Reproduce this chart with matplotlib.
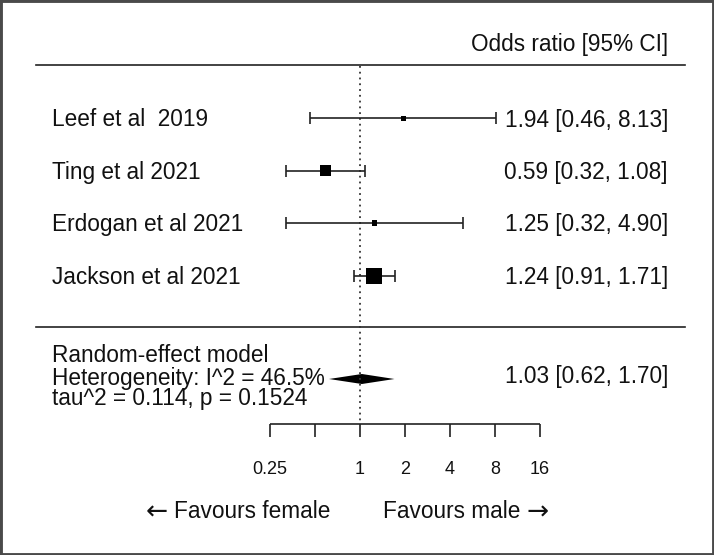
import numpy as np
import matplotlib
matplotlib.use("Agg")
import matplotlib.pyplot as plt
from matplotlib.patches import Rectangle
import matplotlib.transforms as mtransforms

plt.rcParams['font.family'] = ['Liberation Sans', 'DejaVu Sans']

# ---------------- data ----------------
studies = ["Leef et al  2019", "Ting et al 2021", "Erdogan et al 2021", "Jackson et al 2021"]
odds_ratio = [1.94, 0.59, 1.25, 1.24]
ci_low = [0.46, 0.32, 0.32, 0.91]
ci_high = [8.13, 1.08, 4.90, 1.71]
weights = [10.2, 31.5, 11.1, 47.3]  # random-effects weights (%)

pooled_label = ["Random-effect model", "Heterogeneity: I^2 = 46.5%", "tau^2 = 0.114, p = 0.1524"]
pooled_or = 1.03
pooled_low = 0.62
pooled_high = 1.70

tick_values = [0.25, 0.5, 1, 2, 4, 8, 16]
tick_labels = ["0.25", "", "1", "2", "4", "8", "16"]
header = "Odds ratio [95% CI]"
favours_left = "Favours female"
favours_right = "Favours male"
arrow_left = "\u2190"
arrow_right = "\u2192"

# ---------------- layout ----------------
W, H = 714, 555
fig = plt.figure(figsize=(W / 100, H / 100), dpi=100)
fig.patch.set_facecolor("white")
ax = fig.add_axes([0, 0, 1, 1])
ax.set_xscale("log", base=2)
# 45 px per doubling, OR=1 at x=360 px
ax.set_xlim(2 ** (-360 / 45), 2 ** ((W - 360) / 45))
ax.set_ylim(H, 0)
ax.axis("off")

trans = mtransforms.blended_transform_factory(ax.transAxes, ax.transData)
FS = 16.3
col = "#111111"
toff = 2  # text vertical offset

row_y0, row_dy = 118, 52.5
rows_y = [row_y0 + i * row_dy for i in range(len(studies))]

# header and separators
ax.text(668 / W, 42 + toff, header, transform=trans, ha="right", va="center", fontsize=FS, color=col)
ax.plot([36 / W, 685 / W], [65, 65], transform=trans, color="#222222", lw=1.2)
ax.plot([36 / W, 685 / W], [327, 327], transform=trans, color="#222222", lw=1.2)

# reference line
ax.vlines(1, 66, 424, colors="#333333", linestyles=(0, (1, 2.2)), lw=1.3)

# study rows
lo_err = [o - l for o, l in zip(odds_ratio, ci_low)]
hi_err = [h - o for o, h in zip(odds_ratio, ci_high)]
ax.errorbar(odds_ratio, rows_y, xerr=[lo_err, hi_err], fmt="none", ecolor="#222222",
            elinewidth=1.2, capsize=4.5, capthick=1.2)
wmin, wmax = min(weights), max(weights)
side_px = [5 + (w - wmin) / (wmax - wmin) * 11 for w in weights]
sizes = [(s * 0.72) ** 2 for s in side_px]
ax.scatter(odds_ratio, rows_y, s=sizes, marker="s", color="black", zorder=3, linewidths=0)

for y, name, o, l, h in zip(rows_y, studies, odds_ratio, ci_low, ci_high):
    ax.text(52 / W, y + toff, name, transform=trans, ha="left", va="center", fontsize=FS, color=col)
    ax.text(668 / W, y + toff, f"{o:.2f} [{l:.2f}, {h:.2f}]", transform=trans, ha="right",
            va="center", fontsize=FS, color=col)

# pooled estimate
pool_y = [355, 377, 398]
for y, t in zip(pool_y, pooled_label):
    ax.text(52 / W, y + 1, t, transform=trans, ha="left", va="center", fontsize=FS, color=col)
dy = 5
dc = pool_y[1] + 2
ax.fill([pooled_low, pooled_or, pooled_high, pooled_or],
        [dc, dc - dy, dc, dc + dy], color="black", lw=0)
ax.text(668 / W, pool_y[1] - 2 + toff,
        f"{pooled_or:.2f} [{pooled_low:.2f}, {pooled_high:.2f}]",
        transform=trans, ha="right", va="center", fontsize=FS, color=col)

# custom x axis
axis_y = 424
ax.hlines(axis_y, tick_values[0], tick_values[-1], colors="#222222", lw=1.2)
ax.vlines(tick_values, axis_y, axis_y + 13, colors="#222222", lw=1.2)
for v, lab in zip(tick_values, tick_labels):
    ax.text(v, 470, lab, ha="center", va="center", fontsize=13, color=col)

fy = 511
ax.text(330 / W, fy, favours_left, transform=trans, ha="right", va="center", fontsize=FS, color=col)
ax.text(146 / W, fy + 2, arrow_left, transform=trans, ha="left", va="center", fontsize=19,
        color=col, family="DejaVu Sans")
ax.text(383 / W, fy, favours_right, transform=trans, ha="left", va="center", fontsize=FS, color=col)
ax.text(549 / W, fy + 2, arrow_right, transform=trans, ha="right", va="center", fontsize=19,
        color=col, family="DejaVu Sans")

# outer frame
fig.patches.append(Rectangle((0, 0), 1, 1, transform=fig.transFigure, fill=False,
                             edgecolor="#4a4a4a", lw=3.5))

fig.savefig("out.png", dpi=100)
